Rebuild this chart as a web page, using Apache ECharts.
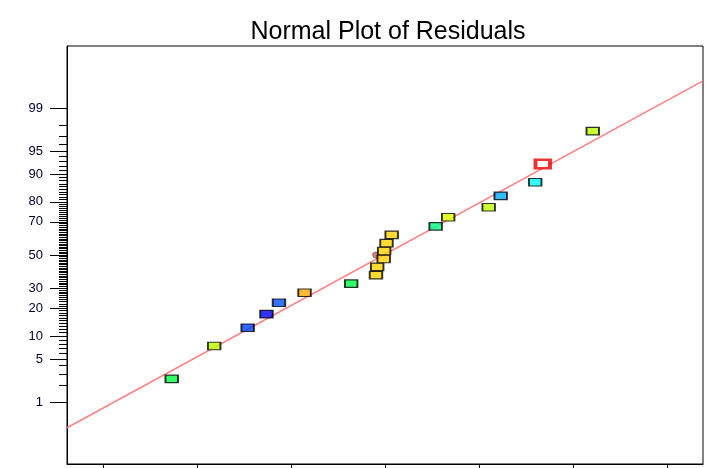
<!DOCTYPE html>
<html>
<head>
<meta charset="utf-8">
<script src="https://cdn.jsdelivr.net/npm/echarts@6/dist/echarts.min.js"></script>
<style>
html,body{margin:0;padding:0;background:#fff;}
#c{width:724px;height:468px;}
</style>
</head>
<body>
<div id="c"></div>
<script>
// ---- data ----
const titleText = 'Normal Plot of Residuals';
// residuals (x, in units of the x-axis tick spacing), sorted
const residuals = [-2.269, -1.817, -1.461, -1.261, -1.128, -0.856, -0.360, -0.096, -0.083, -0.014,
                   -0.009, 0.016, 0.071, 0.539, 0.672, 1.103, 1.231, 1.598, 1.678, 2.210];
// normal % probability (plotting positions)
const probabilities = [2.5, 7.5, 12.5, 17.5, 22.5, 27.5, 32.5, 37.5, 42.5, 47.5,
                       52.5, 57.5, 62.5, 67.5, 72.5, 77.5, 82.5, 87.5, 92.5, 97.5];
const pointColors = ['#00ff40', '#bbff00', '#0044ff', '#0000ff', '#0050ff', '#ffaa00', '#00ff40', '#ffd200', '#ffd200', '#ffd200',
                     '#ffd200', '#ffd200', '#ffd200', '#00ff88', '#ddff00', '#bbff00', '#00aaff', '#00ffff', '#ffffff', '#bbff00'];
const highlightedIndex = 18;
const hiddenMarker = [-0.099, 50];
// fitted line (x, normal score)
const fitLineX = [-3.383, 3.383];
const fitLineZ = [-2.733, 2.753];
// axis ticks
const xTicks = [-3, -2, -1, 0, 1, 2, 3];
const yMajorTicks = [1, 5, 10, 20, 30, 50, 70, 80, 90, 95, 99];
const yMinorTicks = [];
for (let p = 1; p <= 99; p++) if (yMajorTicks.indexOf(p) < 0) yMinorTicks.push(p);

// ---- inverse standard normal CDF (probability scale) ----
function qnorm(p) {
  const a = [-3.969683028665376e+01, 2.209460984245205e+02, -2.759285104469687e+02, 1.383577518672690e+02, -3.066479806614716e+01, 2.506628277459239e+00];
  const b = [-5.447609879822406e+01, 1.615858368580409e+02, -1.556989798598866e+02, 6.680131188771972e+01, -1.328068155288572e+01];
  const c = [-7.784894002430293e-03, -3.223964580411365e-01, -2.400758277161838e+00, -2.549732539343734e+00, 4.374664141464968e+00, 2.938163982698783e+00];
  const d = [7.784695709041462e-03, 3.224671290700398e-01, 2.445134137142996e+00, 3.754408661907416e+00];
  const pl = 0.02425, ph = 1 - pl;
  let q, r;
  if (p < pl) {
    q = Math.sqrt(-2 * Math.log(p));
    return (((((c[0]*q+c[1])*q+c[2])*q+c[3])*q+c[4])*q+c[5]) / ((((d[0]*q+d[1])*q+d[2])*q+d[3])*q+1);
  } else if (p <= ph) {
    q = p - 0.5; r = q * q;
    return (((((a[0]*r+a[1])*r+a[2])*r+a[3])*r+a[4])*r+a[5])*q / (((((b[0]*r+b[1])*r+b[2])*r+b[3])*r+b[4])*r+1);
  } else {
    q = Math.sqrt(-2 * Math.log(1 - p));
    return -(((((c[0]*q+c[1])*q+c[2])*q+c[3])*q+c[4])*q+c[5]) / ((((d[0]*q+d[1])*q+d[2])*q+d[3])*q+1);
  }
}
const zOf = pct => qnorm(pct / 100);
const majorZ = yMajorTicks.map(zOf);
const minorZ = yMinorTicks.map(zOf);

const pointData = residuals.map((x, i) => {
  const item = { value: [x, zOf(probabilities[i])], itemStyle: { color: pointColors[i], borderColor: '#000', borderWidth: 1.5 } };
  if (i === highlightedIndex) {
    item.symbolSize = [14.5, 8.5];
    item.itemStyle = { color: '#ffffff', borderColor: '#e80000', borderWidth: 3 };
  }
  return item;
});

const chart = echarts.init(document.getElementById('c'), null, { renderer: 'canvas' });
chart.setOption({
  animation: false,
  backgroundColor: '#ffffff',
  title: {
    text: titleText, left: 383, top: 15, textAlign: 'center',
    textStyle: { fontFamily: 'Liberation Sans, Arial, sans-serif', fontSize: 25, fontWeight: 'normal', color: '#000' }
  },
  grid: { left: 67, right: 21, top: 46, bottom: 4, show: true, borderColor: '#000', borderWidth: 1, backgroundColor: 'transparent' },
  xAxis: {
    type: 'value', min: -3.383, max: 3.383,
    axisLine: { show: true, onZero: false, lineStyle: { color: '#000', width: 1 } },
    axisTick: { show: true, customValues: xTicks, length: 5, lineStyle: { color: '#000', width: 1 } },
    axisLabel: { show: false },
    splitLine: { show: false }
  },
  yAxis: [
    {
      type: 'value', min: -3.306, max: 3.306, position: 'left',
      axisLine: { show: true, onZero: false, lineStyle: { color: '#000', width: 1 } },
      axisTick: { show: true, customValues: majorZ, length: 17, lineStyle: { color: '#000', width: 1 } },
      axisLabel: {
        show: true, customValues: majorZ, margin: 24,
        fontFamily: 'Liberation Sans, Arial, sans-serif', fontSize: 13, color: '#000030',
        formatter: v => {
          let best = 0, bd = Infinity;
          majorZ.forEach((z, i) => { const d = Math.abs(z - v); if (d < bd) { bd = d; best = i; } });
          return String(yMajorTicks[best]);
        }
      },
      splitLine: { show: false }
    },
    {
      type: 'value', min: -3.306, max: 3.306, position: 'left', offset: 0,
      axisLine: { show: false, onZero: false },
      axisTick: { show: true, customValues: minorZ, length: 8, lineStyle: { color: '#000', width: 1 } },
      axisLabel: { show: false },
      splitLine: { show: false }
    }
  ],
  series: [
    {
      type: 'line', data: fitLineX.map((x, i) => [x, fitLineZ[i]]),
      symbol: 'none', lineStyle: { color: '#ff8080', width: 1.5 }, z: 1, silent: true
    },
    {
      type: 'scatter', data: [[hiddenMarker[0], zOf(hiddenMarker[1])]],
      symbol: 'circle', symbolSize: 6, itemStyle: { color: '#c86060', borderColor: '#804040', borderWidth: 0.8 }, z: 2
    },
    {
      type: 'scatter', data: pointData, symbol: 'rect', symbolSize: [12.5, 7.5], z: 3
    }
  ]
});
</script>
</body>
</html>
